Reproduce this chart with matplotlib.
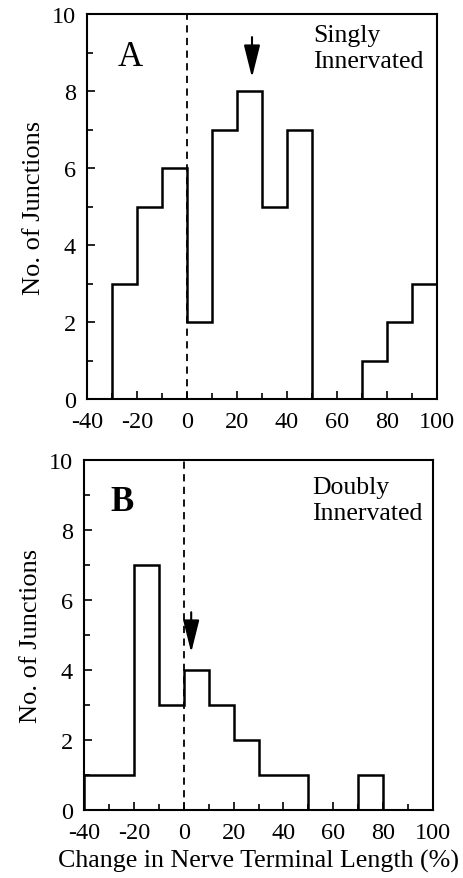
import numpy as np
import matplotlib
matplotlib.use("Agg")
import matplotlib.pyplot as plt
from matplotlib.ticker import MultipleLocator

plt.rcParams['font.family'] = ['Liberation Serif', 'DejaVu Serif']
plt.rcParams['axes.unicode_minus'] = False

bin_edges = np.arange(-40, 101, 10)
singly_counts = [0, 3, 5, 6, 2, 7, 8, 5, 7, 0, 0, 1, 2, 3]
doubly_counts = [1, 1, 7, 3, 4, 3, 2, 1, 1, 0, 0, 1, 0, 0]
singly_mean = 26
doubly_mean = 3
x_ticks = [-40, -20, 0, 20, 40, 60, 80, 100]
y_ticks = [0, 2, 4, 6, 8, 10]

fig = plt.figure(figsize=(4.63, 8.79), dpi=100)
ax_a = fig.add_axes([87/463, 1 - 400/879, 350/463, 385/879])
ax_b = fig.add_axes([84/463, 1 - 811/879, 349/463, 350/879])


def draw_panel(ax, counts, mean, letter, label, label_xy, letter_xy, arrow_top, arrow_bot):
    ax.stairs(counts, bin_edges, color='black', linewidth=1.8)
    ax.plot([0, 0], [0, 10], color='black', linestyle='--', linewidth=1.3, dashes=(4, 3))
    ax.annotate('', xy=(mean, arrow_bot), xytext=(mean, arrow_top),
                arrowprops=dict(arrowstyle='-|>,head_width=0.5,head_length=2.0',
                                color='black', linewidth=1.5, shrinkA=0, shrinkB=0))
    ax.text(letter_xy[0], letter_xy[1], letter, fontsize=25, ha='center', va='center',
            fontweight='bold' if letter == 'B' else 'normal')
    ax.text(label_xy[0], label_xy[1], label, fontsize=18.5, ha='left', va='top',
            linespacing=1.25)
    ax.set_xlim(-40, 100)
    ax.set_ylim(0, 10)
    ax.set_xticks(x_ticks)
    ax.set_yticks(y_ticks)
    ax.xaxis.set_minor_locator(MultipleLocator(10))
    ax.yaxis.set_minor_locator(MultipleLocator(1))
    ax.tick_params(which='both', direction='in', top=False, right=False,
                   labelsize=17.5, width=1.2)
    ax.tick_params(which='major', length=6)
    ax.tick_params(which='minor', length=4)
    ax.tick_params(axis='x', pad=9)
    ax.tick_params(axis='y', pad=8)
    for s in ax.spines.values():
        s.set_linewidth(1.5)
    ax.set_ylabel('No. of Junctions', fontsize=19, labelpad=5)


draw_panel(ax_a, singly_counts, singly_mean, 'A', 'Singly\nInnervated',
           (50.5, 9.75), (-22.8, 8.9), 9.4, 8.35)
draw_panel(ax_b, doubly_counts, doubly_mean, 'B', 'Doubly\nInnervated',
           (51.5, 9.55), (-24.8, 8.8), 5.65, 4.5)
ax_b.set_xlabel('Change in Nerve Terminal Length (%)', fontsize=18.7, labelpad=4)

fig.savefig('out.png', dpi=100)
